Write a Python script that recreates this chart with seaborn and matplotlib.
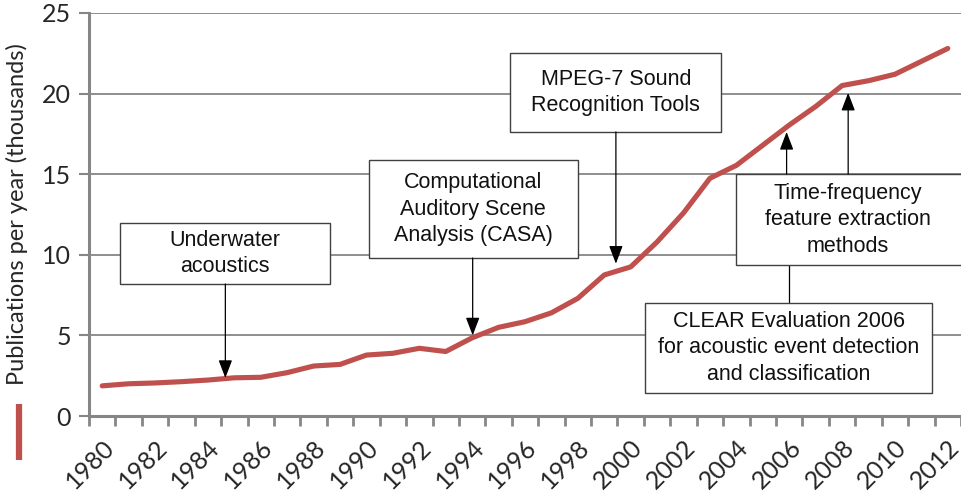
import seaborn as sns
import matplotlib.pyplot as plt
import pandas as pd
from matplotlib.patches import Rectangle
from matplotlib.lines import Line2D

years = list(range(1980, 2013))
pubs = [1.87, 2.0, 2.05, 2.13, 2.23, 2.37, 2.4, 2.69, 3.1, 3.2,
        3.78, 3.89, 4.2, 4.0, 4.85, 5.5, 5.85, 6.4, 7.3, 8.75,
        9.25, 10.8, 12.6, 14.75, 15.55, 16.8, 18.05, 19.2, 20.5, 20.8,
        21.2, 22.0, 22.8]
ytick_vals = [0, 5, 10, 15, 20, 25]
xtick_years = list(range(1980, 2013, 2))

# annotation boxes: (text, x0, x1, y0, y1, text x, text y)
boxes = [
    ("Underwater\nacoustics", 1980.68, 1988.61, 8.19, 11.97, 1984.64, 10.08),
    ("Computational\nAuditory Scene\nAnalysis (CASA)", 1990.08, 1998.0, 9.8, 15.88, 1994.04, 12.84),
    ("MPEG-7 Sound\nRecognition Tools", 1995.45, 2003.42, 17.62, 22.52, 1999.44, 20.07),
    ("Time-frequency\nfeature extraction\nmethods", 2003.98, 2013.2, 9.37, 15.01, 2008.23, 12.16),
    ("CLEAR Evaluation 2006\nfor acoustic event detection\nand classification", 2000.56, 2011.39, 1.43, 7.01, 2005.98, 4.22),
]
# arrows: (x, y start, y tip)
arrows = [
    (1984.66, 8.19, 2.36),
    (1994.02, 9.8, 5.0),
    (1999.44, 17.62, 9.45),
    (2005.9, 15.01, 17.62),
    (2008.23, 15.01, 20.05),
]
# plain connector from CLEAR box up to the time-frequency box
connector = (2005.98, 7.01, 9.37)

df = pd.DataFrame({"year": years, "pubs": pubs})

sns.set_style("white")
plt.rcParams['font.family'] = ['Lato', 'DejaVu Sans']

fig = plt.figure(figsize=(9.61, 4.96), dpi=100)
ax = fig.add_axes([89/961, 1 - 416/496, 1 - 89/961, (416 - 13)/496])

red = "#C0504D"
grey = "#868686"
sns.lineplot(data=df, x="year", y="pubs", color=red, linewidth=3.7, ax=ax, zorder=2)

ax.set_xlim(1979.5, 2012.3)
ax.set_ylim(0, 25)
ax.set_yticks(ytick_vals)
ax.set_yticklabels([str(v) for v in ytick_vals], fontsize=18)
ax.grid(axis="y", color=grey, linewidth=1.3)
ax.set_axisbelow(True)

# tick marks between categories, labels at category centres
ax.set_xticks([y - 0.5 for y in years] + [2012.5])
ax.set_xticklabels([])
ax.set_xticks(xtick_years, minor=True)
ax.set_xticklabels([str(y) for y in xtick_years], minor=True, rotation=45,
                   ha="right", rotation_mode="anchor", fontsize=18)
ax.tick_params(axis="x", which="major", length=7, width=2, color=grey, direction="out", bottom=True)
ax.tick_params(axis="x", which="minor", length=0, pad=14)
ax.tick_params(axis="y", length=7, width=1.5, color=grey, left=True, pad=6)

for side in ["top", "right"]:
    ax.spines[side].set_visible(False)
for side in ["left", "bottom"]:
    ax.spines[side].set_color(grey)
    ax.spines[side].set_linewidth(2.2)

ax.set_xlabel("")
ax.set_ylabel("Publications per year (thousands)", fontsize=17, labelpad=10)
ax.yaxis.set_label_coords(-0.07, 0.5)

for text, x0, x1, y0, y1, tx, ty in boxes:
    ax.add_patch(Rectangle((x0, y0), x1 - x0, y1 - y0, facecolor="white",
                           edgecolor="#404040", linewidth=1.0, zorder=3, clip_on=False))
    ax.text(tx, ty, text, ha="center", va="center", fontsize=15.5,
            family=["Liberation Sans", "DejaVu Sans"], color="#111111",
            linespacing=1.32, zorder=4)

for x, ys, yt in arrows:
    ax.annotate("", xy=(x, yt), xytext=(x, ys),
                arrowprops=dict(arrowstyle="-|>,head_length=1.1,head_width=0.42",
                                mutation_scale=10, color="black", lw=0.9,
                                shrinkA=0, shrinkB=0), zorder=5)
cx, cy0, cy1 = connector
ax.plot([cx, cx], [cy0, cy1], color="black", lw=0.9, zorder=2.5)

handle = Line2D([], [], color=red, marker="|", linestyle="none",
                markersize=40, markeredgewidth=4.5)
fig.legend([handle], [""], loc="center", bbox_to_anchor=(19/961, 1 - 433/496),
           frameon=False, handlelength=0.5, handletextpad=0, borderpad=0)

fig.savefig("out.png", dpi=100)
